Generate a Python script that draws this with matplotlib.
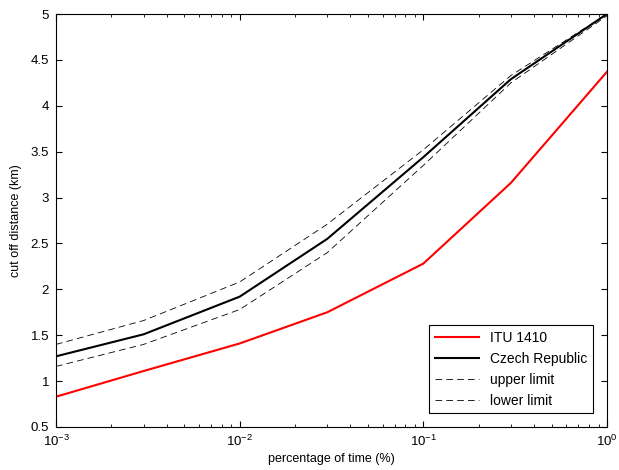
import matplotlib
matplotlib.use("Agg")
import matplotlib.pyplot as plt
import numpy as np

plt.rcParams['font.family'] = ['Liberation Sans', 'DejaVu Sans']

# percentage of time (%)
time_pct = [1e-3, 3e-3, 1e-2, 3e-2, 1e-1, 3e-1, 1.0]
# cut off distance (km)
itu_1410 = [0.83, 1.11, 1.41, 1.75, 2.28, 3.16, 4.37]
czech = [1.27, 1.51, 1.92, 2.55, 3.44, 4.29, 5.0]
upper = [1.40, 1.66, 2.08, 2.71, 3.52, 4.33, 5.0]
lower = [1.16, 1.40, 1.78, 2.40, 3.35, 4.25, 4.98]

fig = plt.figure(figsize=(6.19, 4.70), dpi=100)
ax = fig.add_axes([0.0905, 0.0915, 0.89, 0.8787])

ax.plot(time_pct, itu_1410, color='#ff0000', lw=1.5, label='ITU 1410')
ax.plot(time_pct, czech, color='black', lw=1.5, label='Czech Republic')
ax.plot(time_pct, upper, color='black', lw=0.6, ls=(0, (8, 5)), label='upper limit')
ax.plot(time_pct, lower, color='black', lw=0.6, ls=(0, (8, 5)), label='lower limit')

ax.set_xscale('log')
ax.set_xlim(1e-3, 1)
ax.set_ylim(0.5, 5)
ax.set_yticks(np.arange(0.5, 5.01, 0.5))
ax.set_yticklabels(['0.5', '1', '1.5', '2', '2.5', '3', '3.5', '4', '4.5', '5'])

ax.tick_params(which='both', direction='in', top=True, right=True, labelsize=9.5)
ax.tick_params(which='major', length=4, pad=5)
ax.tick_params(which='minor', length=2.5)
for s in ax.spines.values():
    s.set_linewidth(0.8)

ax.set_xlabel('percentage of time (%)', fontsize=9, labelpad=3)
ax.set_ylabel('cut off distance (km)', fontsize=9, labelpad=6)

leg = ax.legend(loc='lower right', fontsize=10, fancybox=False, framealpha=1,
                edgecolor='black', borderaxespad=1.0, handlelength=3.2,
                labelspacing=0.5, borderpad=0.4)
leg.get_frame().set_linewidth(0.8)

fig.savefig('out.png', dpi=100)
